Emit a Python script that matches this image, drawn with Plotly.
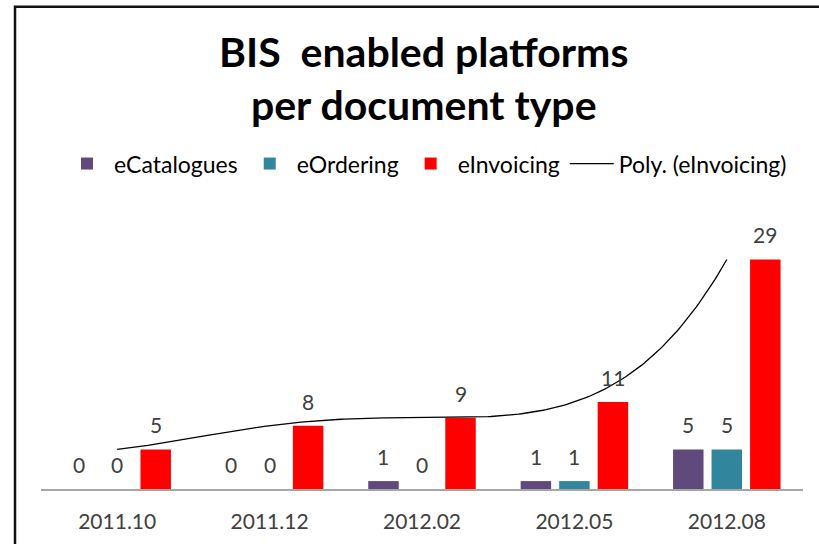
import numpy as np
import plotly.graph_objects as go

categories = ["2011.10", "2011.12", "2012.02", "2012.05", "2012.08"]
ecatalogues = [0, 0, 1, 1, 5]
eordering = [0, 0, 0, 1, 5]
einvoicing = [5, 8, 9, 11, 29]

xpos = list(range(1, len(categories) + 1))

# Polynomial trendline (order 4) fitted on eInvoicing, as in the spreadsheet
coef = np.polyfit(xpos, einvoicing, 4)
xs = np.linspace(1, len(categories), 200)
ys = np.polyval(coef, xs)

FONT = "Lato"
TXT = "#404040"
BARGAP = 0.242
GROUPGAP = 0.208

series = [("eCatalogues", ecatalogues, "#604A7B"),
          ("eOrdering", eordering, "#31859C"),
          ("eInvoicing", einvoicing, "#FF0000")]

fig = go.Figure()
annotations = []
slot = (1 - BARGAP) / len(series)
for i, (name, vals, col) in enumerate(series):
    fig.add_trace(go.Bar(
        x=xpos, y=vals, name=name, marker=dict(color=col, line=dict(width=0)),
    ))
    off = (i - (len(series) - 1) / 2) * slot
    for xp, v in zip(xpos, vals):
        annotations.append(dict(
            x=xp + off, y=v, xref="x", yref="y", text=str(v),
            showarrow=False, yanchor="bottom", xanchor="center", yshift=10,
            font=dict(family=FONT, size=21, color=TXT),
        ))

fig.add_trace(go.Scatter(
    x=xs, y=ys, mode="lines", name="Poly. (eInvoicing)",
    line=dict(color="black", width=1.3), hoverinfo="skip",
))

L, R, T, B = 41, 16, 211.5, 55
W, H = 819, 544
pw, ph = W - L - R, H - T - B

annotations.append(dict(
    text="<b>BIS\u00a0\u00a0enabled platforms<br>per document type</b>",
    xref="paper", yref="paper", x=(424 - L) / pw, xanchor="center",
    y=(H - B - 77) / ph, yanchor="middle", showarrow=False,
    font=dict(family=FONT, size=41, color="black")))

fig.update_layout(
    width=W, height=H,
    margin=dict(l=L, r=R, t=T, b=B, autoexpand=False),
    paper_bgcolor="white", plot_bgcolor="white",
    barmode="group", bargap=BARGAP, bargroupgap=GROUPGAP,
    showlegend=True,
    legend=dict(
        orientation="h", x=(426 - L) / pw, xanchor="center",
        y=(H - B - 163) / ph, yanchor="middle",
        font=dict(family=FONT, size=23, color="black"),
        traceorder="normal", itemwidth=44,
        bgcolor="rgba(0,0,0,0)",
    ),
    xaxis=dict(
        range=[0.5, len(categories) + 0.5],
        tickmode="array", tickvals=xpos, ticktext=categories,
        showgrid=False, zeroline=False,
        showline=True, linecolor="#A6A6A6", linewidth=1.5,
        ticks="outside", ticklen=13, tickcolor="rgba(0,0,0,0)",
        tickfont=dict(family=FONT, size=21, color=TXT),
    ),
    yaxis=dict(
        range=[0, 35], visible=False, showgrid=False, zeroline=False,
    ),
    annotations=annotations,
    shapes=[
        dict(type="rect", xref="paper", yref="paper",
             x0=(15 - L) / pw, x1=(W + 10 - L) / pw,
             y0=(H - B - (H + 10)) / ph, y1=(H - B - 6) / ph,
             line=dict(color="#111111", width=2.5), fillcolor="rgba(0,0,0,0)",
             layer="above"),
    ],
)

fig.write_html("out.html", config={"displayModeBar": False},
               post_script="document.body.style.margin='0';document.body.style.overflow='hidden';")
